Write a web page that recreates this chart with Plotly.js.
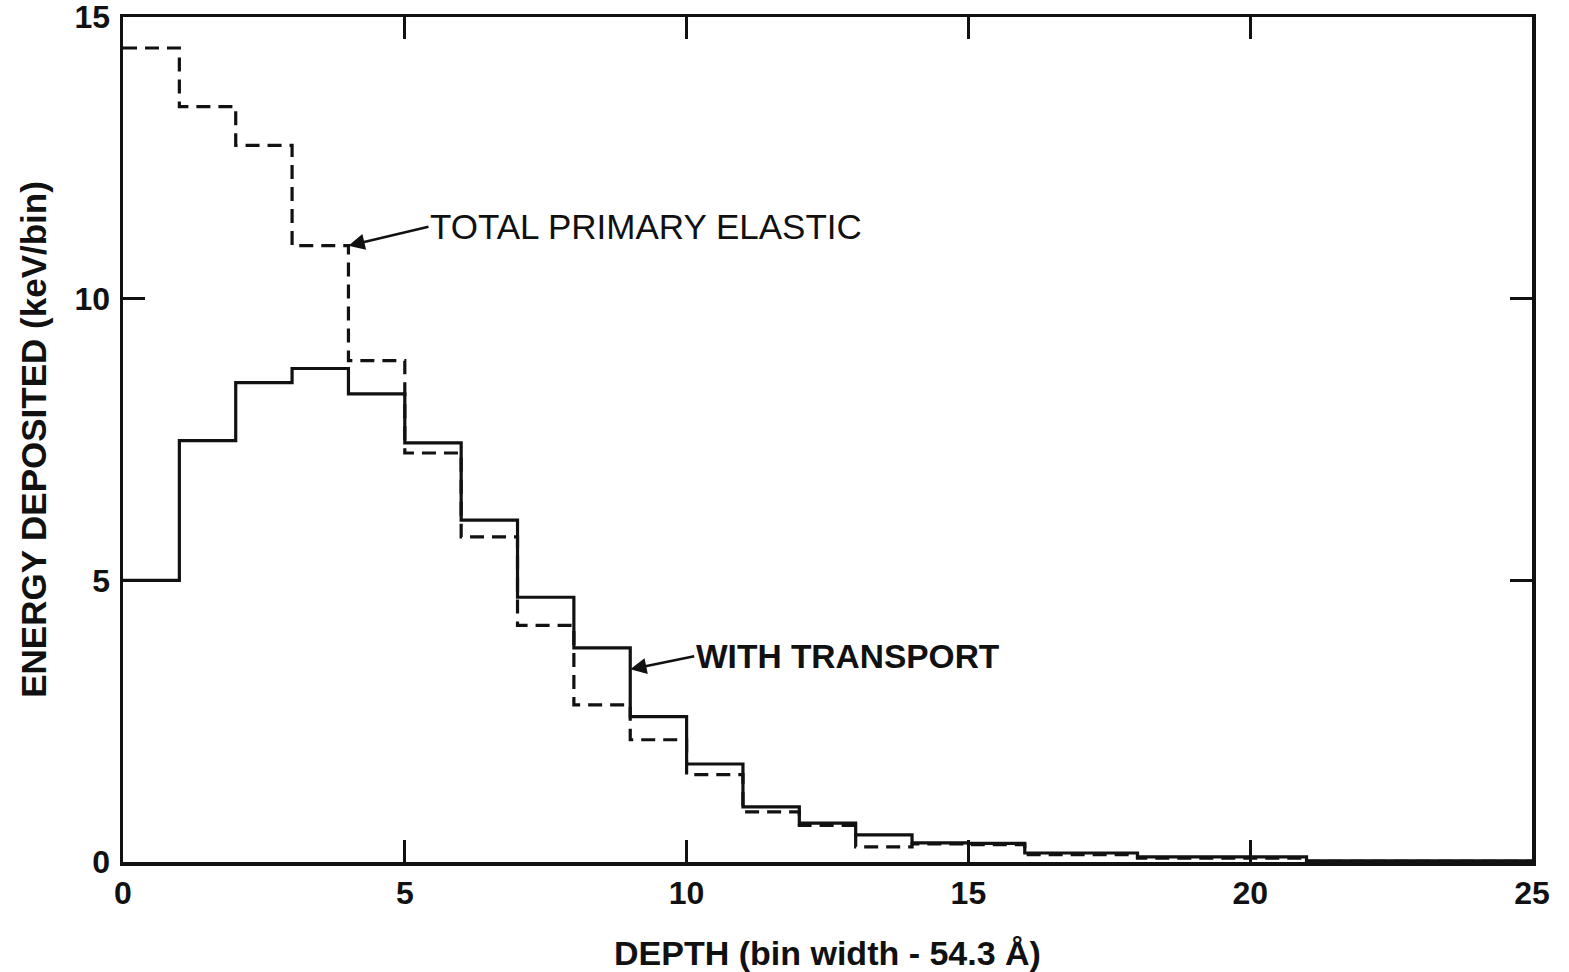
<!DOCTYPE html>
<html>
<head>
<meta charset="utf-8">
<script src="https://cdn.plot.ly/plotly-3.0.1.min.js"></script>
<style>
  html, body { margin: 0; padding: 0; background: #ffffff; }
  #chart { width: 1569px; height: 972px; }
</style>
</head>
<body>
<div id="chart"></div>
<script>
// Bin left edges (depth in bins, bin width 54.3 Å)
const binEdges = [0,1,2,3,4,5,6,7,8,9,10,11,12,13,14,15,16,17,18,19,20,21,22,23,24];
const lastEdge = 25;

// Energy deposited (keV/bin)
const withTransport = [5.00,7.48,8.51,8.76,8.31,7.44,6.07,4.70,3.80,2.58,1.74,0.98,0.69,0.48,0.34,0.33,0.16,0.16,0.09,0.09,0.09,0.02,0.02,0.02,0.02];
const totalPrimaryElastic = [14.45,13.41,12.72,10.94,8.90,7.26,5.77,4.20,2.79,2.17,1.55,0.89,0.65,0.27,0.32,0.31,0.13,0.13,0.07,0.07,0.07,0.01,0.01,0.01,0.01];

const xTickVals = [0,5,10,15,20,25];
const xTickText = ['0','5','10','15','20','25'];
const yTickVals = [0,5,10,15];
const yTickText = ['0','5','10','15'];

const labelElastic = 'TOTAL PRIMARY ELASTIC';
const labelTransport = 'WITH TRANSPORT';

function stepX(edges) { return edges.concat([lastEdge]); }
function stepY(vals) { return vals.concat([vals[vals.length - 1]]); }

const ink = '#111111';

const traces = [
  {
    x: stepX(binEdges), y: stepY(totalPrimaryElastic),
    type: 'scatter', mode: 'lines',
    line: { shape: 'hv', color: ink, width: 3.2, dash: '14px,8px' },
    name: labelElastic, hoverinfo: 'skip'
  },
  {
    x: stepX(binEdges), y: stepY(withTransport),
    type: 'scatter', mode: 'lines',
    line: { shape: 'hv', color: ink, width: 3.2 },
    name: labelTransport, hoverinfo: 'skip'
  }
];

const tickFont = { family: 'Liberation Sans Narrow, Arial Narrow, sans-serif', size: 32, color: ink, weight: 'bold' };

const layout = {
  width: 1569, height: 972,
  paper_bgcolor: '#ffffff', plot_bgcolor: '#ffffff',
  showlegend: false,
  margin: { l: 123, r: 37, t: 17, b: 110 },
  xaxis: {
    range: [0, 25], tickvals: xTickVals, ticktext: xTickText,
    ticks: 'inside', ticklen: 22, tickwidth: 3, tickcolor: ink,
    showline: true, linewidth: 3.5, linecolor: ink, mirror: 'ticks',
    showgrid: false, zeroline: false,
    tickfont: tickFont, ticklabelstandoff: 0, ticklabeloverflow: 'allow',
    title: { text: 'DEPTH (bin width - 54.3 Å)',
             font: { family: 'Liberation Sans Narrow, Arial Narrow, sans-serif', size: 34, color: ink, weight: 'bold' },
             standoff: 38 },
    fixedrange: true
  },
  yaxis: {
    range: [0, 15], tickvals: yTickVals, ticktext: yTickText,
    ticks: 'inside', ticklen: 22, tickwidth: 3, tickcolor: ink,
    showline: true, linewidth: 3.5, linecolor: ink, mirror: 'ticks',
    showgrid: false, zeroline: false,
    tickfont: tickFont, ticklabelstandoff: 3, ticklabeloverflow: 'allow',
    title: { text: 'ENERGY DEPOSITED (keV/bin)',
             font: { family: 'Liberation Sans Narrow, Arial Narrow, sans-serif', size: 35, color: ink, weight: 'bold' },
             standoff: 18 },
    fixedrange: true
  },
  annotations: [
    {
      x: 4, y: totalPrimaryElastic[3], xref: 'x', yref: 'y',
      text: labelElastic, showarrow: true,
      axref: 'pixel', ayref: 'pixel', ax: 80, ay: -19,
      xanchor: 'left', yanchor: 'middle',
      arrowhead: 2, arrowsize: 1.3, arrowwidth: 2.5, arrowcolor: ink,
      font: { family: 'Liberation Sans, Arial, sans-serif', size: 35, color: ink }
    },
    {
      x: 9, y: 3.42, xref: 'x', yref: 'y',
      text: labelTransport, showarrow: true,
      axref: 'pixel', ayref: 'pixel', ax: 64, ay: -13,
      xanchor: 'left', yanchor: 'middle',
      arrowhead: 2, arrowsize: 1.3, arrowwidth: 2.5, arrowcolor: ink,
      font: { family: 'Liberation Sans, Arial, sans-serif', size: 33.5, color: ink, weight: 'bold' }
    }
  ]
};

Plotly.newPlot('chart', traces, layout, { displayModeBar: false, staticPlot: true });
</script>
</body>
</html>
